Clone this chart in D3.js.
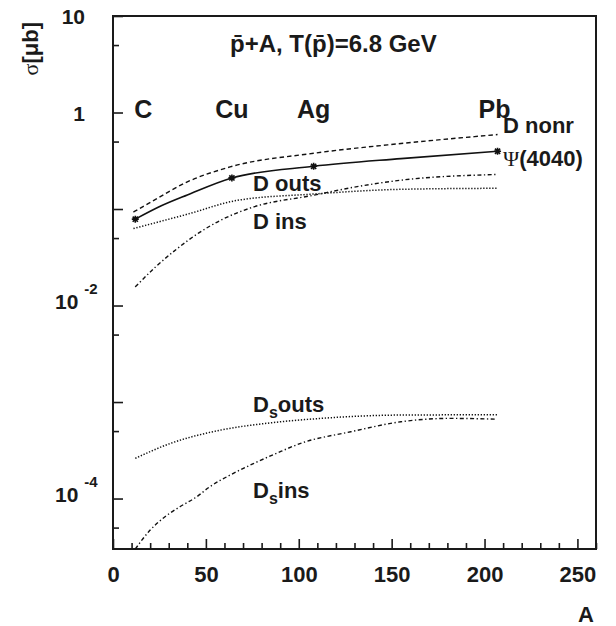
<!DOCTYPE html>
<html>
<head>
<meta charset="utf-8">
<script src="https://cdn.jsdelivr.net/npm/d3@7"></script>
<style>
  body { margin: 0; background: #fff; }
  svg { display: block; }
  text { font-family: "Liberation Sans", Arial, Helvetica, sans-serif; font-weight: bold; fill: #1a1a1a; }
</style>
</head>
<body>
<div id="container"></div>
<script>
// nuclei (mass number A) and Psi(4040) cross sections in micro-barn
const nucleusA = [12, 64, 108, 207];
const nucleusNames = ["C", "Cu", "Ag", "Pb"];
const psiSigma = [0.0785, 0.210, 0.277, 0.397];

// curves
const psiLineA = [12, 26, 40, 64, 108, 155, 207];
const psiLineSigma = [0.0785, 0.108, 0.140, 0.210, 0.277, 0.333, 0.397];

const dNonrA = [11, 22, 40, 63, 108, 155, 207];
const dNonrSigma = [0.093, 0.123, 0.191, 0.273, 0.378, 0.477, 0.591];

const dOutsA = [11, 40, 67, 108, 155, 207];
const dOutsSigma = [0.0628, 0.0883, 0.123, 0.143, 0.160, 0.164];

const dInsA = [12, 23, 34, 46, 58, 75, 108, 128, 155, 207];
const dInsSigma = [0.0156, 0.0252, 0.0381, 0.0562, 0.0766, 0.104, 0.139, 0.166, 0.199, 0.228];

const dsOutsA = [12, 31, 58, 85, 112, 155, 207];
const dsOutsSigma = [2.61e-4, 3.73e-4, 5.12e-4, 6.09e-4, 6.77e-4, 7.33e-4, 7.38e-4];

const dsInsA = [12, 20, 28, 36, 45, 52, 63, 76, 88, 101, 128, 155, 181, 206];
const dsInsSigma = [3.0e-5, 4.71e-5, 6.48e-5, 8.22e-5, 1.04e-4, 1.32e-4, 1.75e-4, 2.32e-4,
                    2.94e-4, 3.73e-4, 4.92e-4, 6.24e-4, 6.77e-4, 6.65e-4];

// axis ticks
const xMajorTicks = [0, 50, 100, 150, 200, 250];
const xMinorTicks = d3.range(0, 261, 10);
const yLabelTicks = [
  { v: 10, base: "10", exp: "" },
  { v: 1, base: "1", exp: "" },
  { v: 1e-2, base: "10", exp: "-2" },
  { v: 1e-4, base: "10", exp: "-4" }
];

const width = 616, height = 626;
const plotL = 113, plotR = 596, plotT = 16, plotB = 549;

const x = d3.scaleLinear([0, 260], [plotL, plotR]);
const y = d3.scaleLog([3e-5, 10], [plotB, plotT]);

const svg = d3.create("svg")
  .attr("width", width)
  .attr("height", height)
  .attr("viewBox", [0, 0, width, height]);

// y ticks: decades long, 5x decade short
const logTicks = y.ticks();
const yMajor = logTicks.filter(d => Math.abs(Math.log10(d) - Math.round(Math.log10(d))) < 1e-6);
const yMinor = logTicks.filter(d => Math.abs(d / Math.pow(10, Math.floor(Math.log10(d) + 1e-9)) - 5) < 1e-6);

svg.append("g")
  .attr("transform", `translate(${plotL},0)`)
  .call(d3.axisLeft(y).tickValues(yMajor).tickSize(-10).tickFormat(""))
  .call(g => g.select(".domain").remove())
  .call(g => g.selectAll("line").attr("stroke", "#1a1a1a").attr("stroke-width", 1.6));

svg.append("g")
  .attr("transform", `translate(${plotL},0)`)
  .call(d3.axisLeft(y).tickValues(yMinor).tickSize(-6).tickFormat(""))
  .call(g => g.select(".domain").remove())
  .call(g => g.selectAll("line").attr("stroke", "#1a1a1a").attr("stroke-width", 1.6));

// x ticks
svg.append("g")
  .attr("transform", `translate(0,${plotB})`)
  .call(d3.axisBottom(x).tickValues(xMinorTicks.filter(d => d % 50 !== 0)).tickSize(-6).tickFormat(""))
  .call(g => g.select(".domain").remove())
  .call(g => g.selectAll("line").attr("stroke", "#1a1a1a").attr("stroke-width", 1.6));

svg.append("g")
  .attr("transform", `translate(0,${plotB})`)
  .call(d3.axisBottom(x).tickValues(xMajorTicks).tickSize(-10).tickPadding(17).tickFormat(d3.format("d")))
  .call(g => g.select(".domain").remove())
  .call(g => g.selectAll("line").attr("stroke", "#1a1a1a").attr("stroke-width", 1.6))
  .call(g => g.selectAll("text")
    .attr("font-size", 22)
    .attr("font-family", "Liberation Sans, Arial, sans-serif")
    .attr("font-weight", "bold")
    .attr("fill", "#1a1a1a"));

// y tick labels
yLabelTicks.forEach(t => {
  if (!t.exp) {
    svg.append("text")
      .attr("x", 85)
      .attr("y", y(t.v) + 8)
      .attr("text-anchor", "end")
      .attr("font-size", 21)
      .text(t.base);
  } else {
    const txt = svg.append("text")
      .attr("x", 55)
      .attr("y", y(t.v) + 3)
      .attr("font-size", 21);
    txt.append("tspan").text(t.base);
    txt.append("tspan").attr("dx", 6).attr("dy", -15).attr("font-size", 15).text(t.exp);
  }
});

// frame
svg.append("rect")
  .attr("x", plotL).attr("y", plotT)
  .attr("width", plotR - plotL).attr("height", plotB - plotT)
  .attr("fill", "none")
  .attr("stroke", "#1a1a1a")
  .attr("stroke-width", 2);

// curves
const line = d3.line()
  .x(d => x(d[0]))
  .y(d => y(d[1]))
  .curve(d3.curveMonotoneX);

const curves = [
  { a: dNonrA, s: dNonrSigma, dash: "4.5,3", w: 1.4 },
  { a: psiLineA, s: psiLineSigma, dash: null, w: 1.6 },
  { a: dOutsA, s: dOutsSigma, dash: "1.3,1.7", w: 1.5 },
  { a: dInsA, s: dInsSigma, dash: "4,2.5,1.3,2.5", w: 1.4 },
  { a: dsOutsA, s: dsOutsSigma, dash: "1.3,1.7", w: 1.5 },
  { a: dsInsA, s: dsInsSigma, dash: "4,2.5,1.3,2.5", w: 1.4 }
];

svg.append("g")
  .selectAll("path")
  .data(curves)
  .join("path")
  .attr("fill", "none")
  .attr("stroke", "#111")
  .attr("stroke-width", d => d.w)
  .attr("stroke-dasharray", d => d.dash)
  .attr("d", d => line(d3.zip(d.a, d.s)));

// Psi(4040) markers (asterisks)
svg.append("g")
  .selectAll("path")
  .data(d3.zip(nucleusA, psiSigma))
  .join("path")
  .attr("transform", d => `translate(${x(d[0])},${y(d[1])})`)
  .attr("d", "M-3.5,0H3.5M0,-3.5V3.5M-2.6,-2.6L2.6,2.6M-2.6,2.6L2.6,-2.6")
  .attr("stroke", "#111")
  .attr("stroke-width", 1.6);

// nucleus names
const nameShift = [8, 0, 0, -3];
svg.append("g")
  .selectAll("text")
  .data(nucleusNames)
  .join("text")
  .attr("x", (d, i) => x(nucleusA[i]) + nameShift[i])
  .attr("y", 118)
  .attr("text-anchor", "middle")
  .attr("font-size", 25)
  .text(d => d);

// title
const title = svg.append("text").attr("x", 230).attr("y", 52).attr("font-size", 24);
title.text("p\u0304+A, T(p\u0304)=6.8 GeV");

// curve labels
svg.append("text").attr("x", 503).attr("y", 133).attr("font-size", 22).text("D nonr");

const psiLab = svg.append("text").attr("x", 503).attr("y", 166).attr("font-size", 22);
psiLab.append("tspan")
  .attr("font-family", "Liberation Serif, DejaVu Serif, serif")
  .attr("font-weight", "normal")
  .text("\u03A8");
psiLab.append("tspan").text("(4040)");

svg.append("text").attr("x", 253).attr("y", 191).attr("font-size", 22).text("D outs");
svg.append("text").attr("x", 253).attr("y", 229).attr("font-size", 22).text("D ins");

const dsOut = svg.append("text").attr("x", 253).attr("y", 412).attr("font-size", 22);
dsOut.append("tspan").text("D");
dsOut.append("tspan").attr("dy", 6).attr("font-size", 16).text("s");
dsOut.append("tspan").attr("dy", -6).text("outs");

const dsIn = svg.append("text").attr("x", 253).attr("y", 498).attr("font-size", 22);
dsIn.append("tspan").text("D");
dsIn.append("tspan").attr("dy", 6).attr("font-size", 16).text("s");
dsIn.append("tspan").attr("dy", -6).text("ins");

// axis titles
const yTitle = svg.append("text")
  .attr("transform", "translate(38,22) rotate(-90)")
  .attr("text-anchor", "end")
  .attr("font-size", 22);
yTitle.append("tspan")
  .attr("font-family", "Liberation Serif, DejaVu Serif, serif")
  .attr("font-weight", "normal")
  .text("\u03C3");
yTitle.append("tspan").text("[\u03BCb]");

svg.append("text")
  .attr("x", 594)
  .attr("y", 622)
  .attr("text-anchor", "end")
  .attr("font-size", 22)
  .text("A");

document.querySelector("#container").append(svg.node());
</script>
</body>
</html>
